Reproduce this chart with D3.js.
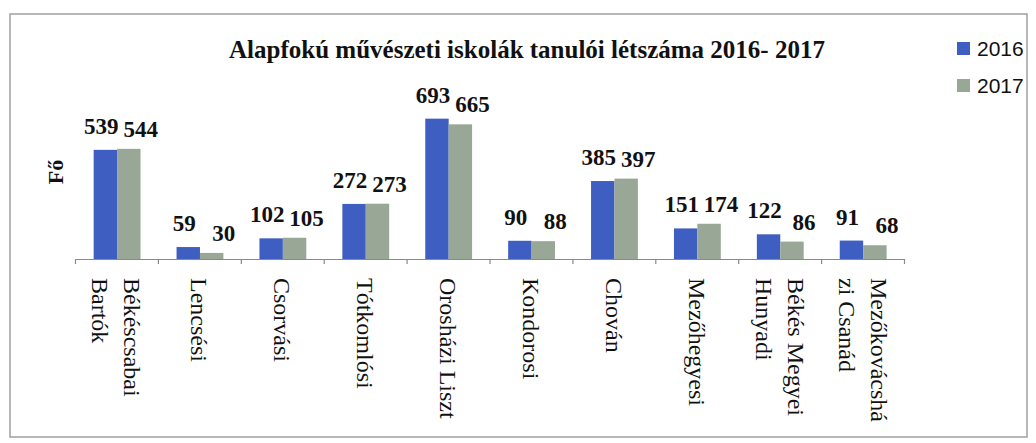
<!DOCTYPE html>
<html>
<head>
<meta charset="utf-8">
<script src="https://cdn.jsdelivr.net/npm/d3@7"></script>
<style>
  html, body { margin: 0; padding: 0; background: #ffffff; }
  svg { display: block; }
</style>
</head>
<body>
<div id="chart"></div>
<script>
const schools = [
  ['Békéscsabai', 'Bartók'],
  ['Lencsési'],
  ['Csorvási'],
  ['Tótkomlósi'],
  ['Orosházi Liszt'],
  ['Kondorosi'],
  ['Chován'],
  ['Mezőhegyesi'],
  ['Békés Megyei', 'Hunyadi'],
  ['Mezőkovácshá', 'zi Csanád']
];
const years = ['2016', '2017'];
const values2016 = [539, 59, 102, 272, 693, 90, 385, 151, 122, 91];
const values2017 = [544, 30, 105, 273, 665, 88, 397, 174, 86, 68];
const chartTitle = 'Alapfokú művészeti iskolák tanulói létszáma 2016- 2017';
const yTitle = 'Fő';

const width = 1036;
const height = 443;
const colors = { '2016': '#3f5ec2', '2017': '#99a797' };
const serif = '"Liberation Serif", "Times New Roman", serif';
const sans = '"Liberation Sans", Arial, sans-serif';

const svg = d3.select('#chart')
  .append('svg')
  .attr('width', width)
  .attr('height', height);

// outer frame
svg.append('rect')
  .attr('x', 10)
  .attr('y', 14)
  .attr('width', 1017)
  .attr('height', 423)
  .style('fill', 'none')
  .style('stroke', '#a0a0a0')
  .style('stroke-width', 1.5);

const plotLeft = 75;
const plotRight = 904;
const baseline = 259;

const keys = schools.map((d, i) => i);
const x0 = d3.scaleBand()
  .domain(keys)
  .range([plotLeft, plotRight]);

const x1 = d3.scaleBand()
  .domain(years)
  .range([x0.bandwidth() * 0.225, x0.bandwidth() * 0.79]);

const y = d3.scaleLinear()
  .domain([0, 800])
  .range([baseline, baseline - 162]);

const rows = keys.map(i => ({ i, v: { '2016': values2016[i], '2017': values2017[i] } }));

const groups = svg.selectAll('.group')
  .data(rows)
  .enter()
  .append('g')
  .attr('class', 'group')
  .attr('transform', d => `translate(${x0(d.i)},0)`);

groups.selectAll('rect')
  .data(d => years.map(k => ({ k, v: d.v[k] })))
  .enter()
  .append('rect')
  .attr('x', d => x1(d.k))
  .attr('y', d => y(d.v))
  .attr('width', x1.bandwidth())
  .attr('height', d => baseline - y(d.v))
  .style('fill', d => colors[d.k]);

// data labels, placed like the hand-adjusted ones of the original
const labelShift = { '2016': { dx: -4, dy: -16 }, '2017': { dx: 12, dy: -12 } };
groups.selectAll('text.value')
  .data(d => years.map(k => ({ k, v: d.v[k] })))
  .enter()
  .append('text')
  .attr('class', 'value')
  .attr('x', d => x1(d.k) + x1.bandwidth() / 2 + labelShift[d.k].dx)
  .attr('y', d => y(d.v) + labelShift[d.k].dy)
  .attr('text-anchor', 'middle')
  .style('font-family', serif)
  .style('font-weight', 'bold')
  .style('font-size', '23px')
  .style('fill', '#111')
  .text(d => d.v);

// category axis with ticks at band edges
const edges = d3.scaleLinear()
  .domain([0, schools.length])
  .range([plotLeft, plotRight]);

const axis = svg.append('g')
  .attr('transform', `translate(0,${baseline})`)
  .call(d3.axisBottom(edges)
    .tickValues(d3.range(schools.length + 1))
    .tickSize(5)
    .tickSizeOuter(0)
    .tickFormat(''));
axis.selectAll('path, line')
  .style('stroke', '#8a8a8a')
  .style('stroke-width', 1.2);

// rotated category labels
const lineGap = 32;
const catLabels = svg.selectAll('.cat')
  .data(schools)
  .enter()
  .append('text')
  .attr('class', 'cat')
  .attr('transform', (d, i) => `translate(${x0(i) + x0.bandwidth() / 2},278) rotate(90)`)
  .style('font-family', serif)
  .style('font-size', '24px')
  .style('fill', '#111');

catLabels.selectAll('tspan')
  .data(d => d.map((t, j) => ({ t, j, n: d.length })))
  .enter()
  .append('tspan')
  .attr('x', 0)
  .attr('y', d => 8 - (d.n - 1) * lineGap / 2 + d.j * lineGap)
  .text(d => d.t);

// titles
svg.append('text')
  .attr('x', 527)
  .attr('y', 58)
  .attr('text-anchor', 'middle')
  .style('font-family', serif)
  .style('font-weight', 'bold')
  .style('font-size', '25px')
  .style('fill', '#111')
  .text(chartTitle);

svg.append('text')
  .attr('transform', 'translate(63,172) rotate(-90)')
  .attr('text-anchor', 'middle')
  .style('font-family', serif)
  .style('font-weight', 'bold')
  .style('font-size', '22px')
  .style('fill', '#111')
  .text(yTitle);

// legend
const legend = svg.selectAll('.legend')
  .data(years)
  .enter()
  .append('g')
  .attr('class', 'legend')
  .attr('transform', (d, i) => `translate(957,${42 + i * 37})`);

legend.append('rect')
  .attr('width', 13)
  .attr('height', 13)
  .style('fill', d => colors[d]);

legend.append('text')
  .attr('x', 20)
  .attr('y', 14)
  .style('font-family', sans)
  .style('font-size', '21px')
  .style('fill', '#111')
  .text(d => d);
</script>
</body>
</html>
